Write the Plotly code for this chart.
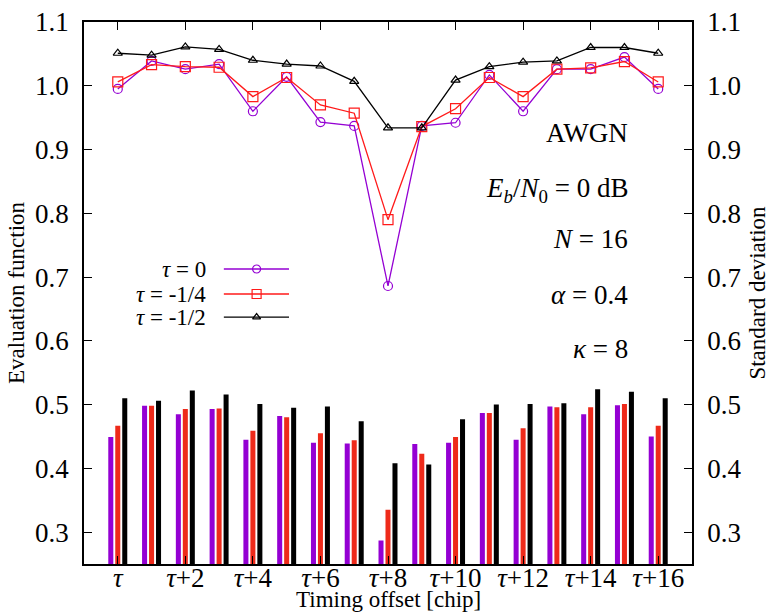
import plotly.graph_objects as go

# ---------------- data ----------------
offsets = list(range(17))  # tau, tau+1, ..., tau+16
tick_positions = list(range(0, 17, 2))
tick_labels = ["<i>τ</i>"] + [f"<i>τ</i>+{k}" for k in range(2, 17, 2)]

series_names = ["τ = 0", "τ = -1/4", "τ = -1/2"]

eval_tau0 = [0.995, 1.039, 1.026, 1.034, 0.960, 1.014, 0.943, 0.937, 0.686,
             0.937, 0.942, 1.017, 0.960, 1.026, 1.026, 1.045, 0.995]
eval_tau14 = [1.006, 1.033, 1.030, 1.029, 0.983, 1.013, 0.970, 0.957, 0.790,
              0.936, 0.964, 1.013, 0.983, 1.026, 1.028, 1.038, 1.006]
eval_tau12 = [1.051, 1.048, 1.061, 1.057, 1.040, 1.034, 1.031, 1.007, 0.934,
              0.934, 1.009, 1.030, 1.037, 1.039, 1.060, 1.060, 1.051]

std_tau0 = [0.449, 0.498, 0.485, 0.493, 0.445, 0.482, 0.440, 0.439, 0.287,
            0.438, 0.440, 0.487, 0.445, 0.497, 0.485, 0.499, 0.450]
std_tau14 = [0.467, 0.498, 0.493, 0.494, 0.459, 0.480, 0.455, 0.444, 0.335,
             0.423, 0.449, 0.487, 0.463, 0.496, 0.496, 0.501, 0.467]
std_tau12 = [0.510, 0.506, 0.522, 0.516, 0.501, 0.495, 0.497, 0.474, 0.408,
             0.406, 0.477, 0.500, 0.501, 0.502, 0.524, 0.520, 0.510]

# ---------------- styles ----------------
FONT = "Liberation Serif"
line_colors = ["#9400D3", "#FF1A1A", "#000000"]
bar_colors = ["#9400D3", "#EE2A1A", "#000000"]
symbols = ["circle-open", "square-open", "triangle-up-open"]
msizes = [9, 10, 8]

evals = [eval_tau0, eval_tau14, eval_tau12]
stds = [std_tau0, std_tau14, std_tau12]

fig = go.Figure()

for name, vals, col in zip(series_names, stds, bar_colors):
    fig.add_trace(go.Bar(
        x=offsets, y=vals, name=name, marker_color=col,
        marker_line_width=0, yaxis="y2", showlegend=False,
    ))

for name, vals, col, sym, ms in zip(series_names, evals, line_colors, symbols, msizes):
    fig.add_trace(go.Scatter(
        x=offsets, y=vals, mode="lines+markers", name=name,
        line=dict(color=col, width=1.3),
        marker=dict(symbol=sym, size=ms, color=col, line=dict(width=1.2, color=col)),
        yaxis="y", showlegend=False,
    ))

# ---- gnuplot-style key: text on the left, sample on the right ----
key_x_line = [3.14, 5.07]
key_x_mark = 4.11
key_x_text = 2.66
key_rows = [0.7126, 0.6734, 0.6373]
for name, col, sym, ms, ky in zip(series_names, line_colors, symbols, msizes, key_rows):
    fig.add_trace(go.Scatter(
        x=key_x_line, y=[ky, ky], mode="lines", line=dict(color=col, width=1.3),
        showlegend=False, hoverinfo="skip", yaxis="y",
    ))
    fig.add_trace(go.Scatter(
        x=[key_x_mark], y=[ky], mode="markers",
        marker=dict(symbol=sym, size=ms - 1, color=col, line=dict(width=1.2, color=col)),
        showlegend=False, hoverinfo="skip", yaxis="y",
    ))
    label = name.replace("τ", "<i>τ</i>")
    fig.add_annotation(x=key_x_text, y=ky, xref="x", yref="y", text=label,
                       showarrow=False, xanchor="right", yanchor="middle",
                       font=dict(family=FONT, size=23, color="black"))

# ---- right-hand parameter text ----
params = [
    ("AWGN", 0.795),
    ("<i>E</i><sub><i>b</i></sub>/<i>N</i><sub>0</sub> = 0 dB", 0.690),
    ("<i>N</i> = 16", 0.600),
    ("<i>α</i> = 0.4", 0.496),
    ("<i>κ</i> = 8", 0.397),
]
for txt, yy in params:
    fig.add_annotation(x=0.898, y=yy, xref="paper", yref="paper", text=txt,
                       showarrow=False, xanchor="right", yanchor="middle",
                       font=dict(family=FONT, size=27, color="black"))

fig.add_annotation(x=0.5, y=-0.066, xref="paper", yref="paper",
                   text="Timing offset [chip]", showarrow=False,
                   xanchor="center", yanchor="middle",
                   font=dict(family=FONT, size=23, color="black"))

axis_common = dict(showline=True, linecolor="black", linewidth=1.5,
                   ticks="inside", ticklen=8, tickwidth=1.2, tickcolor="black",
                   showgrid=False, zeroline=False, automargin=False,
                   tickfont=dict(family=FONT, size=27, color="black"))

fig.update_layout(
    width=773, height=612,
    margin=dict(l=84, r=81, t=22, b=48),
    paper_bgcolor="white", plot_bgcolor="white",
    barmode="group", bargap=0.38, bargroupgap=0.28,
    xaxis=dict(range=[-1, 17], tickvals=tick_positions, ticktext=tick_labels,
               mirror="ticks", ticklabelstandoff=-11, **axis_common),
    yaxis=dict(range=[0.25, 1.1], dtick=0.1, tick0=0.3, tickformat=".1f",
               ticklabelstandoff=8,
               title=dict(text="Evaluation function", standoff=4,
                          font=dict(family=FONT, size=23, color="black")),
               **axis_common),
    yaxis2=dict(range=[0.25, 1.1], dtick=0.1, tick0=0.3, tickformat=".1f",
                overlaying="y", side="right", ticklabelstandoff=8,
                title=dict(text="Standard deviation", standoff=8,
                           font=dict(family=FONT, size=23, color="black")),
                **axis_common),
    font=dict(family=FONT, color="black"),
)

fig.write_html("out.html")
